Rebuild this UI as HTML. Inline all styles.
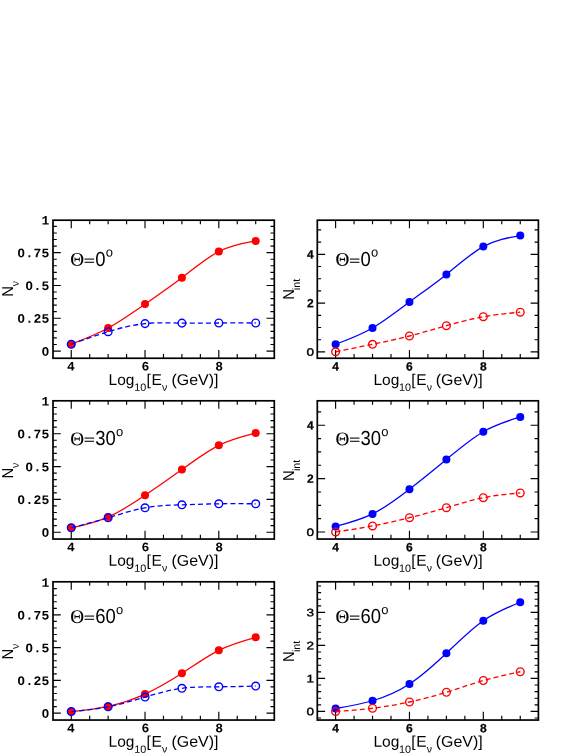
<!DOCTYPE html>
<html><head><meta charset="utf-8"><title>chart</title>
<style>
html,body{margin:0;padding:0;background:#fff;}
body{width:583px;height:755px;overflow:hidden;}
svg{display:block;will-change:transform;}
text{font-family:"Liberation Sans",sans-serif;fill:#000;text-rendering:geometricPrecision;}
.m{font-family:"Liberation Mono",monospace;font-weight:bold;font-size:13px;}
.z{font-family:"Liberation Sans",sans-serif;font-weight:bold;font-size:12.4px;}
.b{font-family:"Liberation Sans",sans-serif;font-weight:bold;font-size:12px;stroke:#000;stroke-width:0.25px;}
.t{font-size:15.5px;}
.md{font-size:10.8px;stroke:#000;stroke-width:0.35px;}
.ty{font-size:15.8px;}
.s2{font-size:11.5px;}
.s{font-size:10.5px;}
.th{font-size:20.3px;}
.sy{font-family:"Liberation Serif",serif;font-size:19.2px;stroke:#000;stroke-width:0.1px;}
.sup{font-size:13px;}
.eq{stroke:#000;stroke-width:0.45px;}
</style></head><body>
<svg width="583" height="755" viewBox="0 0 583 755">
<rect width="583" height="755" fill="#fff"/>
<g><path d="M71.25,358.25v-8.3M71.25,220.20v8.0M89.69,358.25v-4.3M89.69,220.20v4.0M108.14,358.25v-4.3M108.14,220.20v4.0M126.59,358.25v-4.3M126.59,220.20v4.0M145.03,358.25v-8.3M145.03,220.20v8.0M163.47,358.25v-4.3M163.47,220.20v4.0M181.92,358.25v-4.3M181.92,220.20v4.0M200.37,358.25v-4.3M200.37,220.20v4.0M218.81,358.25v-8.3M218.81,220.20v8.0M237.25,358.25v-4.3M237.25,220.20v4.0M255.70,358.25v-4.3M255.70,220.20v4.0M53.00,351.05h7.8M274.30,351.05h-7.8M53.00,344.49h3.8M274.30,344.49h-3.8M53.00,337.93h3.8M274.30,337.93h-3.8M53.00,331.37h3.8M274.30,331.37h-3.8M53.00,324.81h3.8M274.30,324.81h-3.8M53.00,318.25h7.8M274.30,318.25h-7.8M53.00,311.69h3.8M274.30,311.69h-3.8M53.00,305.13h3.8M274.30,305.13h-3.8M53.00,298.57h3.8M274.30,298.57h-3.8M53.00,292.01h3.8M274.30,292.01h-3.8M53.00,285.45h7.8M274.30,285.45h-7.8M53.00,278.89h3.8M274.30,278.89h-3.8M53.00,272.33h3.8M274.30,272.33h-3.8M53.00,265.77h3.8M274.30,265.77h-3.8M53.00,259.21h3.8M274.30,259.21h-3.8M53.00,252.65h7.8M274.30,252.65h-7.8M53.00,246.09h3.8M274.30,246.09h-3.8M53.00,239.53h3.8M274.30,239.53h-3.8M53.00,232.97h3.8M274.30,232.97h-3.8M53.00,226.41h3.8M274.30,226.41h-3.8" stroke="#000" stroke-width="1.15" fill="none"/>
<rect x="53.00" y="220.20" width="221.30" height="138.05" fill="none" stroke="#000" stroke-width="1.7"/>
<text transform="translate(45.50,355.65) rotate(0.03) scale(1.07,1)" text-anchor="middle" class="z">0</text>
<text transform="translate(21.20,322.85) rotate(0.03) scale(1.07,1)" text-anchor="middle" class="z">0</text>
<text transform="translate(25.40,322.85) rotate(0.03)" class="m">.</text>
<text transform="translate(33.50,322.85) rotate(0.03)" class="m">2</text>
<text transform="translate(41.60,322.85) rotate(0.03)" class="m">5</text>
<text transform="translate(29.30,290.05) rotate(0.03) scale(1.07,1)" text-anchor="middle" class="z">0</text>
<text transform="translate(33.50,290.05) rotate(0.03)" class="m">.</text>
<text transform="translate(41.60,290.05) rotate(0.03)" class="m">5</text>
<text transform="translate(21.20,257.25) rotate(0.03) scale(1.07,1)" text-anchor="middle" class="z">0</text>
<text transform="translate(25.40,257.25) rotate(0.03)" class="m">.</text>
<text transform="translate(33.50,257.25) rotate(0.03)" class="m">7</text>
<text transform="translate(41.60,257.25) rotate(0.03)" class="m">5</text>
<text transform="translate(41.60,224.45) rotate(0.03)" class="m">1</text>
<text transform="translate(70.95,370.50) rotate(0.03)" text-anchor="middle" class="m">4</text>
<text transform="translate(145.53,370.50) rotate(0.03)" text-anchor="middle" class="m">6</text>
<text transform="translate(219.21,370.50) rotate(0.03)" text-anchor="middle" class="m">8</text>
<text transform="translate(108.60,385.00) rotate(0.03) scale(1.0,1)" class="t">Log</text>
<text transform="translate(134.25,390.85) rotate(0.03) scale(1.03,1)" class="s">10</text>
<text transform="translate(146.50,385.00) rotate(0.03) scale(1.0,1)" class="t">[</text>
<text transform="translate(151.40,385.00) rotate(0.03) scale(1.0,1)" class="t">E</text>
<text transform="translate(162.05,390.80) rotate(0.03) scale(1.0,1)" class="s">ν</text>
<text transform="translate(171.50,385.00) rotate(0.03) scale(1.028,1)" class="t">(GeV)]</text>
<text transform="translate(13.4,296.70) rotate(-90.03) scale(0.93,1)" class="ty">N</text>
<text transform="translate(18.7,286.20) rotate(-90.03)" class="s">ν</text>
<text transform="translate(70.25,265.80) rotate(0.03)" class="sy">Θ</text>
<text transform="translate(84.05,264.80) rotate(0.03) scale(0.91,0.64)" class="th eq">=</text>
<text transform="translate(95.15,265.80) rotate(0.03) scale(0.91,1)" class="th">0</text>
<text transform="translate(105.82,256.60) rotate(0.03)" class="sup">o</text>
<path d="M71.25,344.20 C83.55,339.46 95.84,334.71 108.14,328.00 C120.44,321.29 132.73,312.61 145.03,304.10 C157.33,295.59 169.62,287.24 181.92,277.80 C194.22,268.36 206.51,257.83 218.81,251.50 C231.11,245.17 243.40,243.03 255.70,240.90" stroke="#ff0000" stroke-width="1.3" fill="none"/>
<circle cx="71.25" cy="344.20" r="4" fill="#ff0000"/>
<circle cx="108.14" cy="328.00" r="4" fill="#ff0000"/>
<circle cx="145.03" cy="304.10" r="4" fill="#ff0000"/>
<circle cx="181.92" cy="277.80" r="4" fill="#ff0000"/>
<circle cx="218.81" cy="251.50" r="4" fill="#ff0000"/>
<circle cx="255.70" cy="240.90" r="4" fill="#ff0000"/>
<path d="M71.25,344.20 C83.55,339.82 95.84,335.44 108.14,331.70 C120.44,327.96 132.73,324.86 145.03,323.60 C157.33,322.34 169.62,322.91 181.92,323.10 C194.22,323.29 206.51,323.08 218.81,323.00 C231.11,322.92 243.40,322.96 255.70,323.00" stroke="#0000ff" stroke-width="1.3" fill="none" stroke-dasharray="5 3.1"/>
<circle cx="71.25" cy="344.20" r="3.85" fill="none" stroke="#0000ff" stroke-width="1.4"/>
<circle cx="108.14" cy="331.70" r="3.85" fill="none" stroke="#0000ff" stroke-width="1.4"/>
<circle cx="145.03" cy="323.60" r="3.85" fill="none" stroke="#0000ff" stroke-width="1.4"/>
<circle cx="181.92" cy="323.10" r="3.85" fill="none" stroke="#0000ff" stroke-width="1.4"/>
<circle cx="218.81" cy="323.00" r="3.85" fill="none" stroke="#0000ff" stroke-width="1.4"/>
<circle cx="255.70" cy="323.00" r="3.85" fill="none" stroke="#0000ff" stroke-width="1.4"/></g>
<g><path d="M335.60,358.25v-8.3M335.60,220.20v8.0M354.07,358.25v-4.3M354.07,220.20v4.0M372.53,358.25v-4.3M372.53,220.20v4.0M391.00,358.25v-4.3M391.00,220.20v4.0M409.46,358.25v-8.3M409.46,220.20v8.0M427.93,358.25v-4.3M427.93,220.20v4.0M446.39,358.25v-4.3M446.39,220.20v4.0M464.86,358.25v-4.3M464.86,220.20v4.0M483.32,358.25v-8.3M483.32,220.20v8.0M501.79,358.25v-4.3M501.79,220.20v4.0M520.25,358.25v-4.3M520.25,220.20v4.0M317.30,351.90h7.8M538.40,351.90h-7.8M317.30,339.70h3.8M538.40,339.70h-3.8M317.30,327.50h3.8M538.40,327.50h-3.8M317.30,315.30h3.8M538.40,315.30h-3.8M317.30,303.10h7.8M538.40,303.10h-7.8M317.30,290.90h3.8M538.40,290.90h-3.8M317.30,278.70h3.8M538.40,278.70h-3.8M317.30,266.50h3.8M538.40,266.50h-3.8M317.30,254.30h7.8M538.40,254.30h-7.8M317.30,242.10h3.8M538.40,242.10h-3.8M317.30,229.90h3.8M538.40,229.90h-3.8" stroke="#000" stroke-width="1.15" fill="none"/>
<rect x="317.30" y="220.20" width="221.10" height="138.05" fill="none" stroke="#000" stroke-width="1.7"/>
<text transform="translate(314.1,355.80) rotate(0.03) scale(1.25,1)" text-anchor="end" class="md">0</text>
<text transform="translate(313.8,307.30) rotate(0.03)" text-anchor="end" class="b">2</text>
<text transform="translate(313.8,258.50) rotate(0.03)" text-anchor="end" class="b">4</text>
<text transform="translate(335.60,370.50) rotate(0.03)" text-anchor="middle" class="b">4</text>
<text transform="translate(409.46,370.50) rotate(0.03)" text-anchor="middle" class="b">6</text>
<text transform="translate(483.32,370.50) rotate(0.03)" text-anchor="middle" class="b">8</text>
<text transform="translate(373.40,385.00) rotate(0.03) scale(1.0,1)" class="t">Log</text>
<text transform="translate(399.05,390.85) rotate(0.03) scale(1.03,1)" class="s">10</text>
<text transform="translate(411.30,385.00) rotate(0.03) scale(1.0,1)" class="t">[</text>
<text transform="translate(416.20,385.00) rotate(0.03) scale(1.0,1)" class="t">E</text>
<text transform="translate(426.85,390.80) rotate(0.03) scale(1.0,1)" class="s">ν</text>
<text transform="translate(435.80,385.00) rotate(0.03) scale(1.028,1)" class="t">(GeV)]</text>
<text transform="translate(294.4,299.80) rotate(-90.03) scale(0.93,1)" class="ty">N</text>
<text transform="translate(300.0,290.20) rotate(-90.03) scale(1.03,1)" class="s">int</text>
<text transform="translate(335.50,265.80) rotate(0.03)" class="sy">Θ</text>
<text transform="translate(349.30,264.80) rotate(0.03) scale(0.91,0.64)" class="th eq">=</text>
<text transform="translate(360.40,265.80) rotate(0.03) scale(0.91,1)" class="th">0</text>
<text transform="translate(371.07,256.60) rotate(0.03)" class="sup">o</text>
<path d="M335.60,344.30 C347.91,339.72 360.22,335.15 372.53,328.00 C384.84,320.85 397.15,311.14 409.46,302.00 C421.77,292.86 434.08,284.29 446.39,274.40 C458.70,264.51 471.01,253.29 483.32,246.60 C495.63,239.91 507.94,237.76 520.25,235.60" stroke="#0000ff" stroke-width="1.3" fill="none"/>
<circle cx="335.60" cy="344.30" r="4" fill="#0000ff"/>
<circle cx="372.53" cy="328.00" r="4" fill="#0000ff"/>
<circle cx="409.46" cy="302.00" r="4" fill="#0000ff"/>
<circle cx="446.39" cy="274.40" r="4" fill="#0000ff"/>
<circle cx="483.32" cy="246.60" r="4" fill="#0000ff"/>
<circle cx="520.25" cy="235.60" r="4" fill="#0000ff"/>
<path d="M335.60,351.80 C347.91,349.32 360.22,346.84 372.53,344.30 C384.84,341.76 397.15,339.14 409.46,336.00 C421.77,332.86 434.08,329.18 446.39,325.70 C458.70,322.22 471.01,318.92 483.32,316.70 C495.63,314.48 507.94,313.34 520.25,312.20" stroke="#ff0000" stroke-width="1.3" fill="none" stroke-dasharray="5 3.1"/>
<circle cx="335.60" cy="351.80" r="3.85" fill="none" stroke="#ff0000" stroke-width="1.4"/>
<circle cx="372.53" cy="344.30" r="3.85" fill="none" stroke="#ff0000" stroke-width="1.4"/>
<circle cx="409.46" cy="336.00" r="3.85" fill="none" stroke="#ff0000" stroke-width="1.4"/>
<circle cx="446.39" cy="325.70" r="3.85" fill="none" stroke="#ff0000" stroke-width="1.4"/>
<circle cx="483.32" cy="316.70" r="3.85" fill="none" stroke="#ff0000" stroke-width="1.4"/>
<circle cx="520.25" cy="312.20" r="3.85" fill="none" stroke="#ff0000" stroke-width="1.4"/></g>
<g><path d="M71.25,539.05v-8.3M71.25,400.80v8.0M89.69,539.05v-4.3M89.69,400.80v4.0M108.14,539.05v-4.3M108.14,400.80v4.0M126.59,539.05v-4.3M126.59,400.80v4.0M145.03,539.05v-8.3M145.03,400.80v8.0M163.47,539.05v-4.3M163.47,400.80v4.0M181.92,539.05v-4.3M181.92,400.80v4.0M200.37,539.05v-4.3M200.37,400.80v4.0M218.81,539.05v-8.3M218.81,400.80v8.0M237.25,539.05v-4.3M237.25,400.80v4.0M255.70,539.05v-4.3M255.70,400.80v4.0M53.00,532.20h7.8M274.30,532.20h-7.8M53.00,525.63h3.8M274.30,525.63h-3.8M53.00,519.07h3.8M274.30,519.07h-3.8M53.00,512.50h3.8M274.30,512.50h-3.8M53.00,505.94h3.8M274.30,505.94h-3.8M53.00,499.38h7.8M274.30,499.38h-7.8M53.00,492.81h3.8M274.30,492.81h-3.8M53.00,486.25h3.8M274.30,486.25h-3.8M53.00,479.68h3.8M274.30,479.68h-3.8M53.00,473.12h3.8M274.30,473.12h-3.8M53.00,466.55h7.8M274.30,466.55h-7.8M53.00,459.99h3.8M274.30,459.99h-3.8M53.00,453.42h3.8M274.30,453.42h-3.8M53.00,446.86h3.8M274.30,446.86h-3.8M53.00,440.29h3.8M274.30,440.29h-3.8M53.00,433.73h7.8M274.30,433.73h-7.8M53.00,427.16h3.8M274.30,427.16h-3.8M53.00,420.60h3.8M274.30,420.60h-3.8M53.00,414.03h3.8M274.30,414.03h-3.8M53.00,407.47h3.8M274.30,407.47h-3.8" stroke="#000" stroke-width="1.15" fill="none"/>
<rect x="53.00" y="400.80" width="221.30" height="138.25" fill="none" stroke="#000" stroke-width="1.7"/>
<text transform="translate(45.50,536.80) rotate(0.03) scale(1.07,1)" text-anchor="middle" class="z">0</text>
<text transform="translate(21.20,503.98) rotate(0.03) scale(1.07,1)" text-anchor="middle" class="z">0</text>
<text transform="translate(25.40,503.98) rotate(0.03)" class="m">.</text>
<text transform="translate(33.50,503.98) rotate(0.03)" class="m">2</text>
<text transform="translate(41.60,503.98) rotate(0.03)" class="m">5</text>
<text transform="translate(29.30,471.15) rotate(0.03) scale(1.07,1)" text-anchor="middle" class="z">0</text>
<text transform="translate(33.50,471.15) rotate(0.03)" class="m">.</text>
<text transform="translate(41.60,471.15) rotate(0.03)" class="m">5</text>
<text transform="translate(21.20,438.33) rotate(0.03) scale(1.07,1)" text-anchor="middle" class="z">0</text>
<text transform="translate(25.40,438.33) rotate(0.03)" class="m">.</text>
<text transform="translate(33.50,438.33) rotate(0.03)" class="m">7</text>
<text transform="translate(41.60,438.33) rotate(0.03)" class="m">5</text>
<text transform="translate(41.60,405.50) rotate(0.03)" class="m">1</text>
<text transform="translate(70.95,551.30) rotate(0.03)" text-anchor="middle" class="m">4</text>
<text transform="translate(145.53,551.30) rotate(0.03)" text-anchor="middle" class="m">6</text>
<text transform="translate(219.21,551.30) rotate(0.03)" text-anchor="middle" class="m">8</text>
<text transform="translate(108.60,565.80) rotate(0.03) scale(1.0,1)" class="t">Log</text>
<text transform="translate(134.25,571.65) rotate(0.03) scale(1.03,1)" class="s">10</text>
<text transform="translate(146.50,565.80) rotate(0.03) scale(1.0,1)" class="t">[</text>
<text transform="translate(151.40,565.80) rotate(0.03) scale(1.0,1)" class="t">E</text>
<text transform="translate(162.05,571.60) rotate(0.03) scale(1.0,1)" class="s">ν</text>
<text transform="translate(171.50,565.80) rotate(0.03) scale(1.028,1)" class="t">(GeV)]</text>
<text transform="translate(13.4,478.40) rotate(-90.03) scale(0.93,1)" class="ty">N</text>
<text transform="translate(18.7,467.90) rotate(-90.03)" class="s">ν</text>
<text transform="translate(70.25,445.20) rotate(0.03)" class="sy">Θ</text>
<text transform="translate(84.05,444.20) rotate(0.03) scale(0.91,0.64)" class="th eq">=</text>
<text transform="translate(95.15,445.20) rotate(0.03) scale(0.91,1)" class="th">30</text>
<text transform="translate(116.09,436.00) rotate(0.03)" class="sup">o</text>
<path d="M71.25,527.80 C83.55,525.11 95.84,522.43 108.14,517.05 C120.44,511.67 132.73,503.61 145.03,495.30 C157.33,486.99 169.62,478.44 181.92,469.55 C194.22,460.66 206.51,451.44 218.81,445.30 C231.11,439.16 243.40,436.11 255.70,433.05" stroke="#ff0000" stroke-width="1.3" fill="none"/>
<circle cx="71.25" cy="527.80" r="4" fill="#ff0000"/>
<circle cx="108.14" cy="517.05" r="4" fill="#ff0000"/>
<circle cx="145.03" cy="495.30" r="4" fill="#ff0000"/>
<circle cx="181.92" cy="469.55" r="4" fill="#ff0000"/>
<circle cx="218.81" cy="445.30" r="4" fill="#ff0000"/>
<circle cx="255.70" cy="433.05" r="4" fill="#ff0000"/>
<path d="M71.25,527.80 C83.55,524.62 95.84,521.45 108.14,517.80 C120.44,514.15 132.73,510.04 145.03,507.80 C157.33,505.56 169.62,505.20 181.92,504.80 C194.22,504.40 206.51,503.97 218.81,503.80 C231.11,503.63 243.40,503.71 255.70,503.80" stroke="#0000ff" stroke-width="1.3" fill="none" stroke-dasharray="5 3.1"/>
<circle cx="71.25" cy="527.80" r="3.85" fill="none" stroke="#0000ff" stroke-width="1.4"/>
<circle cx="108.14" cy="517.80" r="3.85" fill="none" stroke="#0000ff" stroke-width="1.4"/>
<circle cx="145.03" cy="507.80" r="3.85" fill="none" stroke="#0000ff" stroke-width="1.4"/>
<circle cx="181.92" cy="504.80" r="3.85" fill="none" stroke="#0000ff" stroke-width="1.4"/>
<circle cx="218.81" cy="503.80" r="3.85" fill="none" stroke="#0000ff" stroke-width="1.4"/>
<circle cx="255.70" cy="503.80" r="3.85" fill="none" stroke="#0000ff" stroke-width="1.4"/></g>
<g><path d="M335.60,539.05v-8.3M335.60,400.80v8.0M354.07,539.05v-4.3M354.07,400.80v4.0M372.53,539.05v-4.3M372.53,400.80v4.0M391.00,539.05v-4.3M391.00,400.80v4.0M409.46,539.05v-8.3M409.46,400.80v8.0M427.93,539.05v-4.3M427.93,400.80v4.0M446.39,539.05v-4.3M446.39,400.80v4.0M464.86,539.05v-4.3M464.86,400.80v4.0M483.32,539.05v-8.3M483.32,400.80v8.0M501.79,539.05v-4.3M501.79,400.80v4.0M520.25,539.05v-4.3M520.25,400.80v4.0M317.30,532.00h7.8M538.40,532.00h-7.8M317.30,518.65h3.8M538.40,518.65h-3.8M317.30,505.30h3.8M538.40,505.30h-3.8M317.30,491.95h3.8M538.40,491.95h-3.8M317.30,478.60h7.8M538.40,478.60h-7.8M317.30,465.25h3.8M538.40,465.25h-3.8M317.30,451.90h3.8M538.40,451.90h-3.8M317.30,438.55h3.8M538.40,438.55h-3.8M317.30,425.20h7.8M538.40,425.20h-7.8M317.30,411.85h3.8M538.40,411.85h-3.8" stroke="#000" stroke-width="1.15" fill="none"/>
<rect x="317.30" y="400.80" width="221.10" height="138.25" fill="none" stroke="#000" stroke-width="1.7"/>
<text transform="translate(314.1,535.90) rotate(0.03) scale(1.25,1)" text-anchor="end" class="md">0</text>
<text transform="translate(313.8,482.80) rotate(0.03)" text-anchor="end" class="b">2</text>
<text transform="translate(313.8,429.40) rotate(0.03)" text-anchor="end" class="b">4</text>
<text transform="translate(335.60,551.30) rotate(0.03)" text-anchor="middle" class="b">4</text>
<text transform="translate(409.46,551.30) rotate(0.03)" text-anchor="middle" class="b">6</text>
<text transform="translate(483.32,551.30) rotate(0.03)" text-anchor="middle" class="b">8</text>
<text transform="translate(373.40,565.80) rotate(0.03) scale(1.0,1)" class="t">Log</text>
<text transform="translate(399.05,571.65) rotate(0.03) scale(1.03,1)" class="s">10</text>
<text transform="translate(411.30,565.80) rotate(0.03) scale(1.0,1)" class="t">[</text>
<text transform="translate(416.20,565.80) rotate(0.03) scale(1.0,1)" class="t">E</text>
<text transform="translate(426.85,571.60) rotate(0.03) scale(1.0,1)" class="s">ν</text>
<text transform="translate(435.80,565.80) rotate(0.03) scale(1.028,1)" class="t">(GeV)]</text>
<text transform="translate(294.4,481.10) rotate(-90.03) scale(0.93,1)" class="ty">N</text>
<text transform="translate(300.0,471.10) rotate(-90.03) scale(1.03,1)" class="s">int</text>
<text transform="translate(335.50,445.20) rotate(0.03)" class="sy">Θ</text>
<text transform="translate(349.30,444.20) rotate(0.03) scale(0.91,0.64)" class="th eq">=</text>
<text transform="translate(360.40,445.20) rotate(0.03) scale(0.91,1)" class="th">30</text>
<text transform="translate(381.34,436.00) rotate(0.03)" class="sup">o</text>
<path d="M335.60,526.45 C347.91,523.27 360.22,520.08 372.53,513.95 C384.84,507.82 397.15,498.74 409.46,489.20 C421.77,479.66 434.08,469.66 446.39,459.45 C458.70,449.24 471.01,438.82 483.32,431.70 C495.63,424.58 507.94,420.77 520.25,416.95" stroke="#0000ff" stroke-width="1.3" fill="none"/>
<circle cx="335.60" cy="526.45" r="4" fill="#0000ff"/>
<circle cx="372.53" cy="513.95" r="4" fill="#0000ff"/>
<circle cx="409.46" cy="489.20" r="4" fill="#0000ff"/>
<circle cx="446.39" cy="459.45" r="4" fill="#0000ff"/>
<circle cx="483.32" cy="431.70" r="4" fill="#0000ff"/>
<circle cx="520.25" cy="416.95" r="4" fill="#0000ff"/>
<path d="M335.60,531.95 C347.91,530.12 360.22,528.28 372.53,525.95 C384.84,523.62 397.15,520.78 409.46,517.70 C421.77,514.62 434.08,511.30 446.39,507.70 C458.70,504.10 471.01,500.21 483.32,497.70 C495.63,495.19 507.94,494.07 520.25,492.95" stroke="#ff0000" stroke-width="1.3" fill="none" stroke-dasharray="5 3.1"/>
<circle cx="335.60" cy="531.95" r="3.85" fill="none" stroke="#ff0000" stroke-width="1.4"/>
<circle cx="372.53" cy="525.95" r="3.85" fill="none" stroke="#ff0000" stroke-width="1.4"/>
<circle cx="409.46" cy="517.70" r="3.85" fill="none" stroke="#ff0000" stroke-width="1.4"/>
<circle cx="446.39" cy="507.70" r="3.85" fill="none" stroke="#ff0000" stroke-width="1.4"/>
<circle cx="483.32" cy="497.70" r="3.85" fill="none" stroke="#ff0000" stroke-width="1.4"/>
<circle cx="520.25" cy="492.95" r="3.85" fill="none" stroke="#ff0000" stroke-width="1.4"/></g>
<g><path d="M71.25,720.05v-8.3M71.25,581.80v8.0M89.69,720.05v-4.3M89.69,581.80v4.0M108.14,720.05v-4.3M108.14,581.80v4.0M126.59,720.05v-4.3M126.59,581.80v4.0M145.03,720.05v-8.3M145.03,581.80v8.0M163.47,720.05v-4.3M163.47,581.80v4.0M181.92,720.05v-4.3M181.92,581.80v4.0M200.37,720.05v-4.3M200.37,581.80v4.0M218.81,720.05v-8.3M218.81,581.80v8.0M237.25,720.05v-4.3M237.25,581.80v4.0M255.70,720.05v-4.3M255.70,581.80v4.0M53.00,713.10h7.8M274.30,713.10h-7.8M53.00,706.55h3.8M274.30,706.55h-3.8M53.00,700.00h3.8M274.30,700.00h-3.8M53.00,693.45h3.8M274.30,693.45h-3.8M53.00,686.90h3.8M274.30,686.90h-3.8M53.00,680.35h7.8M274.30,680.35h-7.8M53.00,673.80h3.8M274.30,673.80h-3.8M53.00,667.25h3.8M274.30,667.25h-3.8M53.00,660.70h3.8M274.30,660.70h-3.8M53.00,654.15h3.8M274.30,654.15h-3.8M53.00,647.60h7.8M274.30,647.60h-7.8M53.00,641.05h3.8M274.30,641.05h-3.8M53.00,634.50h3.8M274.30,634.50h-3.8M53.00,627.95h3.8M274.30,627.95h-3.8M53.00,621.40h3.8M274.30,621.40h-3.8M53.00,614.85h7.8M274.30,614.85h-7.8M53.00,608.30h3.8M274.30,608.30h-3.8M53.00,601.75h3.8M274.30,601.75h-3.8M53.00,595.20h3.8M274.30,595.20h-3.8M53.00,588.65h3.8M274.30,588.65h-3.8" stroke="#000" stroke-width="1.15" fill="none"/>
<rect x="53.00" y="581.80" width="221.30" height="138.25" fill="none" stroke="#000" stroke-width="1.7"/>
<text transform="translate(45.50,717.70) rotate(0.03) scale(1.07,1)" text-anchor="middle" class="z">0</text>
<text transform="translate(21.20,684.95) rotate(0.03) scale(1.07,1)" text-anchor="middle" class="z">0</text>
<text transform="translate(25.40,684.95) rotate(0.03)" class="m">.</text>
<text transform="translate(33.50,684.95) rotate(0.03)" class="m">2</text>
<text transform="translate(41.60,684.95) rotate(0.03)" class="m">5</text>
<text transform="translate(29.30,652.20) rotate(0.03) scale(1.07,1)" text-anchor="middle" class="z">0</text>
<text transform="translate(33.50,652.20) rotate(0.03)" class="m">.</text>
<text transform="translate(41.60,652.20) rotate(0.03)" class="m">5</text>
<text transform="translate(21.20,619.45) rotate(0.03) scale(1.07,1)" text-anchor="middle" class="z">0</text>
<text transform="translate(25.40,619.45) rotate(0.03)" class="m">.</text>
<text transform="translate(33.50,619.45) rotate(0.03)" class="m">7</text>
<text transform="translate(41.60,619.45) rotate(0.03)" class="m">5</text>
<text transform="translate(41.60,586.70) rotate(0.03)" class="m">1</text>
<text transform="translate(70.95,732.30) rotate(0.03)" text-anchor="middle" class="m">4</text>
<text transform="translate(145.53,732.30) rotate(0.03)" text-anchor="middle" class="m">6</text>
<text transform="translate(219.21,732.30) rotate(0.03)" text-anchor="middle" class="m">8</text>
<text transform="translate(108.60,746.80) rotate(0.03) scale(1.0,1)" class="t">Log</text>
<text transform="translate(134.25,752.65) rotate(0.03) scale(1.03,1)" class="s">10</text>
<text transform="translate(146.50,746.80) rotate(0.03) scale(1.0,1)" class="t">[</text>
<text transform="translate(151.40,746.80) rotate(0.03) scale(1.0,1)" class="t">E</text>
<text transform="translate(162.05,752.60) rotate(0.03) scale(1.0,1)" class="s">ν</text>
<text transform="translate(171.50,746.80) rotate(0.03) scale(1.028,1)" class="t">(GeV)]</text>
<text transform="translate(13.4,659.40) rotate(-90.03) scale(0.93,1)" class="ty">N</text>
<text transform="translate(18.7,648.90) rotate(-90.03)" class="s">ν</text>
<text transform="translate(70.25,623.10) rotate(0.03)" class="sy">Θ</text>
<text transform="translate(84.05,622.10) rotate(0.03) scale(0.91,0.64)" class="th eq">=</text>
<text transform="translate(95.15,623.10) rotate(0.03) scale(0.91,1)" class="th">60</text>
<text transform="translate(116.09,613.90) rotate(0.03)" class="sup">o</text>
<path d="M71.25,711.55 C83.55,710.25 95.84,708.95 108.14,706.30 C120.44,703.65 132.73,699.63 145.03,694.05 C157.33,688.47 169.62,681.31 181.92,673.30 C194.22,665.29 206.51,656.44 218.81,650.30 C231.11,644.16 243.40,640.73 255.70,637.30" stroke="#ff0000" stroke-width="1.3" fill="none"/>
<circle cx="71.25" cy="711.55" r="4" fill="#ff0000"/>
<circle cx="108.14" cy="706.30" r="4" fill="#ff0000"/>
<circle cx="145.03" cy="694.05" r="4" fill="#ff0000"/>
<circle cx="181.92" cy="673.30" r="4" fill="#ff0000"/>
<circle cx="218.81" cy="650.30" r="4" fill="#ff0000"/>
<circle cx="255.70" cy="637.30" r="4" fill="#ff0000"/>
<path d="M71.25,711.55 C83.55,710.39 95.84,709.23 108.14,706.80 C120.44,704.37 132.73,700.66 145.03,697.05 C157.33,693.44 169.62,689.94 181.92,688.30 C194.22,686.66 206.51,686.87 218.81,686.80 C231.11,686.73 243.40,686.39 255.70,686.05" stroke="#0000ff" stroke-width="1.3" fill="none" stroke-dasharray="5 3.1"/>
<circle cx="71.25" cy="711.55" r="3.85" fill="none" stroke="#0000ff" stroke-width="1.4"/>
<circle cx="108.14" cy="706.80" r="3.85" fill="none" stroke="#0000ff" stroke-width="1.4"/>
<circle cx="145.03" cy="697.05" r="3.85" fill="none" stroke="#0000ff" stroke-width="1.4"/>
<circle cx="181.92" cy="688.30" r="3.85" fill="none" stroke="#0000ff" stroke-width="1.4"/>
<circle cx="218.81" cy="686.80" r="3.85" fill="none" stroke="#0000ff" stroke-width="1.4"/>
<circle cx="255.70" cy="686.05" r="3.85" fill="none" stroke="#0000ff" stroke-width="1.4"/></g>
<g><path d="M335.60,720.05v-8.3M335.60,581.80v8.0M354.07,720.05v-4.3M354.07,581.80v4.0M372.53,720.05v-4.3M372.53,581.80v4.0M391.00,720.05v-4.3M391.00,581.80v4.0M409.46,720.05v-8.3M409.46,581.80v8.0M427.93,720.05v-4.3M427.93,581.80v4.0M446.39,720.05v-4.3M446.39,581.80v4.0M464.86,720.05v-4.3M464.86,581.80v4.0M483.32,720.05v-8.3M483.32,581.80v8.0M501.79,720.05v-4.3M501.79,581.80v4.0M520.25,720.05v-4.3M520.25,581.80v4.0M317.30,718.00h3.8M538.40,718.00h-3.8M317.30,711.40h7.8M538.40,711.40h-7.8M317.30,704.80h3.8M538.40,704.80h-3.8M317.30,698.20h3.8M538.40,698.20h-3.8M317.30,691.60h3.8M538.40,691.60h-3.8M317.30,685.00h3.8M538.40,685.00h-3.8M317.30,678.40h7.8M538.40,678.40h-7.8M317.30,671.80h3.8M538.40,671.80h-3.8M317.30,665.20h3.8M538.40,665.20h-3.8M317.30,658.60h3.8M538.40,658.60h-3.8M317.30,652.00h3.8M538.40,652.00h-3.8M317.30,645.40h7.8M538.40,645.40h-7.8M317.30,638.80h3.8M538.40,638.80h-3.8M317.30,632.20h3.8M538.40,632.20h-3.8M317.30,625.60h3.8M538.40,625.60h-3.8M317.30,619.00h3.8M538.40,619.00h-3.8M317.30,612.40h7.8M538.40,612.40h-7.8M317.30,605.80h3.8M538.40,605.80h-3.8M317.30,599.20h3.8M538.40,599.20h-3.8M317.30,592.60h3.8M538.40,592.60h-3.8M317.30,586.00h3.8M538.40,586.00h-3.8" stroke="#000" stroke-width="1.15" fill="none"/>
<rect x="317.30" y="581.80" width="221.10" height="138.25" fill="none" stroke="#000" stroke-width="1.7"/>
<text transform="translate(314.1,715.30) rotate(0.03) scale(1.25,1)" text-anchor="end" class="md">0</text>
<text transform="translate(314.1,682.30) rotate(0.03) scale(1.25,1)" text-anchor="end" class="md">1</text>
<text transform="translate(314.1,649.30) rotate(0.03) scale(1.25,1)" text-anchor="end" class="md">2</text>
<text transform="translate(314.1,616.30) rotate(0.03) scale(1.25,1)" text-anchor="end" class="md">3</text>
<text transform="translate(335.60,732.30) rotate(0.03)" text-anchor="middle" class="b">4</text>
<text transform="translate(409.46,732.30) rotate(0.03)" text-anchor="middle" class="b">6</text>
<text transform="translate(483.32,732.30) rotate(0.03)" text-anchor="middle" class="b">8</text>
<text transform="translate(373.40,746.80) rotate(0.03) scale(1.0,1)" class="t">Log</text>
<text transform="translate(399.05,752.65) rotate(0.03) scale(1.03,1)" class="s">10</text>
<text transform="translate(411.30,746.80) rotate(0.03) scale(1.0,1)" class="t">[</text>
<text transform="translate(416.20,746.80) rotate(0.03) scale(1.0,1)" class="t">E</text>
<text transform="translate(426.85,752.60) rotate(0.03) scale(1.0,1)" class="s">ν</text>
<text transform="translate(435.80,746.80) rotate(0.03) scale(1.028,1)" class="t">(GeV)]</text>
<text transform="translate(294.4,662.10) rotate(-90.03) scale(0.93,1)" class="ty">N</text>
<text transform="translate(300.0,652.10) rotate(-90.03) scale(1.03,1)" class="s">int</text>
<text transform="translate(335.50,623.10) rotate(0.03)" class="sy">Θ</text>
<text transform="translate(349.30,622.10) rotate(0.03) scale(0.91,0.64)" class="th eq">=</text>
<text transform="translate(360.40,623.10) rotate(0.03) scale(0.91,1)" class="th">60</text>
<text transform="translate(381.34,613.90) rotate(0.03)" class="sup">o</text>
<path d="M335.60,708.50 C347.91,706.42 360.22,704.34 372.53,700.75 C384.84,697.16 397.15,692.07 409.46,684.00 C421.77,675.93 434.08,664.90 446.39,653.25 C458.70,641.60 471.01,629.35 483.32,620.75 C495.63,612.15 507.94,607.20 520.25,602.25" stroke="#0000ff" stroke-width="1.3" fill="none"/>
<circle cx="335.60" cy="708.50" r="4" fill="#0000ff"/>
<circle cx="372.53" cy="700.75" r="4" fill="#0000ff"/>
<circle cx="409.46" cy="684.00" r="4" fill="#0000ff"/>
<circle cx="446.39" cy="653.25" r="4" fill="#0000ff"/>
<circle cx="483.32" cy="620.75" r="4" fill="#0000ff"/>
<circle cx="520.25" cy="602.25" r="4" fill="#0000ff"/>
<path d="M335.60,711.50 C347.91,710.62 360.22,709.74 372.53,708.25 C384.84,706.76 397.15,704.67 409.46,702.00 C421.77,699.33 434.08,696.08 446.39,692.25 C458.70,688.42 471.01,684.01 483.32,680.50 C495.63,676.99 507.94,674.37 520.25,671.75" stroke="#ff0000" stroke-width="1.3" fill="none" stroke-dasharray="5 3.1"/>
<circle cx="335.60" cy="711.50" r="3.85" fill="none" stroke="#ff0000" stroke-width="1.4"/>
<circle cx="372.53" cy="708.25" r="3.85" fill="none" stroke="#ff0000" stroke-width="1.4"/>
<circle cx="409.46" cy="702.00" r="3.85" fill="none" stroke="#ff0000" stroke-width="1.4"/>
<circle cx="446.39" cy="692.25" r="3.85" fill="none" stroke="#ff0000" stroke-width="1.4"/>
<circle cx="483.32" cy="680.50" r="3.85" fill="none" stroke="#ff0000" stroke-width="1.4"/>
<circle cx="520.25" cy="671.75" r="3.85" fill="none" stroke="#ff0000" stroke-width="1.4"/></g>
</svg>
</body></html>
